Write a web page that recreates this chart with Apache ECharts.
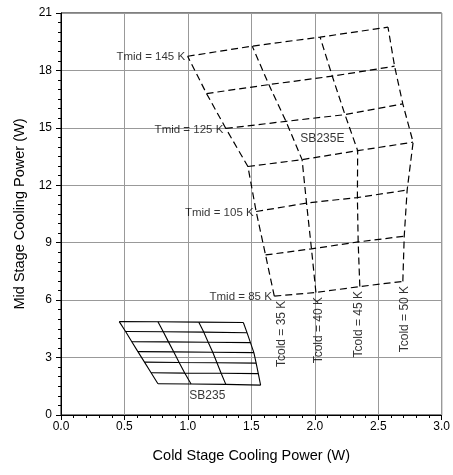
<!DOCTYPE html>
<html><head><meta charset="utf-8">
<script src="https://cdn.jsdelivr.net/npm/echarts@6/dist/echarts.min.js"></script>
<style>html,body{margin:0;padding:0;background:#fff}#c{width:453px;height:475px}</style>
</head><body><div id="c"></div>
<script>
// ---- data ----
const xTickLabels = ['0.0','0.5','1.0','1.5','2.0','2.5','3.0'];
const yTickLabels = ['0','3','6','9','12','15','18','21'];
const xTitle = 'Cold Stage Cooling Power (W)';
const yTitle = 'Mid Stage Cooling Power (W)';

// SB235E: rows = Tmid (K), columns = Tcold (K)
const sb235eTmid = [85, 95, 105, 115, 125, 135, 145];
const sb235eTcold = [35, 40, 45, 50];
const sb235eX = [
  [1.681, 2.009, 2.355, 2.694],
  [1.612, 1.974, 2.342, 2.705],
  [1.538, 1.935, 2.336, 2.728],
  [1.473, 1.900, 2.338, 2.775],
  [1.299, 1.773, 2.238, 2.694],
  [1.147, 1.638, 2.138, 2.629],
  [0.998, 1.507, 2.042, 2.577]
];
const sb235eY = [
  [6.21, 6.40, 6.71, 6.98],
  [8.36, 8.68, 9.04, 9.34],
  [10.63, 11.07, 11.36, 11.75],
  [12.98, 13.34, 13.81, 14.25],
  [14.97, 15.34, 15.69, 16.25],
  [16.79, 17.26, 17.70, 18.22],
  [18.74, 19.27, 19.74, 20.26]
];
const sb235eLabeledTmid = [85, 105, 125, 145];
const sb235eName = 'SB235E';
const sb235eNameAt = [2.06, 14.42];

// SB235: 7 x 4 solid grid
const sb235X = [
  [0.459, 0.764, 1.086, 1.437],
  [0.509, 0.806, 1.125, 1.466],
  [0.558, 0.847, 1.160, 1.493],
  [0.606, 0.888, 1.196, 1.520],
  [0.658, 0.931, 1.229, 1.538],
  [0.710, 0.975, 1.262, 1.555],
  [0.764, 1.025, 1.299, 1.573]
];
const sb235Y = [
  [4.88, 4.87, 4.85, 4.83],
  [4.36, 4.35, 4.33, 4.30],
  [3.83, 3.82, 3.80, 3.78],
  [3.31, 3.30, 3.28, 3.26],
  [2.76, 2.74, 2.73, 2.71],
  [2.21, 2.19, 2.18, 2.16],
  [1.63, 1.62, 1.60, 1.56]
];
const sb235Name = 'SB235';
const sb235NameAt = [1.153, 1.02];

// ---- styles ----
const FONT = 'Liberation Sans, Arial, sans-serif';
const tcoldLabelDx = [7.5, 3, -1, 2];

function gridSeries(X, Y, lineStyle) {
  const out = [];
  for (let r = 0; r < X.length; r++) {
    out.push({type:'line', symbol:'none', silent:true, lineStyle,
      data: X[r].map((x, c) => [x, Y[r][c]])});
  }
  for (let c = 0; c < X[0].length; c++) {
    out.push({type:'line', symbol:'none', silent:true, lineStyle,
      data: X.map((row, r) => [row[c], Y[r][c]])});
  }
  return out;
}

const dashed = {color:'#000', width:1.2, type:[7,4]};
const solid = {color:'#000', width:1.1, type:'solid'};

const series = [
  ...gridSeries(sb235eX, sb235eY, dashed),
  ...gridSeries(sb235X, sb235Y, solid),
  {
    type:'scatter', symbolSize:1, itemStyle:{color:'rgba(0,0,0,0)'}, silent:true,
    data: sb235eLabeledTmid.map(t => {
      const r = sb235eTmid.indexOf(t);
      return {value:[sb235eX[r][0], sb235eY[r][0]], name:'Tmid = ' + t + ' K'};
    }),
    label:{show:true, position:'left', distance:2, offset:[0,1], formatter:p => p.name,
      fontFamily:FONT, fontSize:11.5, color:'#000'}
  },
  {
    type:'scatter', symbolSize:1, itemStyle:{color:'rgba(0,0,0,0)'}, silent:true,
    data: sb235eTcold.map((t, c) => ({
      value:[sb235eX[0][c], sb235eY[0][c]], name:'Tcold = ' + t + ' K',
      label:{offset:[0, tcoldLabelDx[c]]}
    })),
    label:{show:true, position:'bottom', distance:4, rotate:90, align:'right', verticalAlign:'middle',
      formatter:p => p.name, fontFamily:FONT, fontSize:12, color:'#000'}
  },
  {
    type:'scatter', symbolSize:1, itemStyle:{color:'rgba(0,0,0,0)'}, silent:true,
    data:[{value:sb235eNameAt, name:sb235eName},{value:sb235NameAt, name:sb235Name}],
    label:{show:true, position:'inside', formatter:p => p.name, fontFamily:FONT, fontSize:12, color:'#000'}
  }
];

const chart = echarts.init(document.getElementById('c'), null, {renderer:'canvas'});
chart.setOption({
  animation:false,
  backgroundColor:'#fff',
  grid:{left:61, right:9, top:13, bottom:60, show:true, borderColor:'#000', borderWidth:1, backgroundColor:'transparent'},
  xAxis:{
    type:'value', min:0, max:3, interval:0.5,
    name:xTitle, nameLocation:'middle', nameGap:33,
    nameTextStyle:{fontFamily:FONT, fontSize:14.5, color:'#000'},
    axisLine:{show:true, onZero:false, lineStyle:{color:'#000', width:1}},
    axisTick:{show:true, inside:false, length:5, lineStyle:{color:'#000'}},
    minorTick:{show:true, splitNumber:5, length:3, lineStyle:{color:'#000'}},
    axisLabel:{fontFamily:FONT, fontSize:12, color:'#000', margin:6,
      formatter:(v) => xTickLabels[Math.round(v / 0.5)]},
    splitLine:{show:true, lineStyle:{color:'#999', width:1}}
  },
  yAxis:{
    type:'value', min:0, max:21, interval:3,
    name:yTitle, nameLocation:'middle', nameGap:34,
    nameTextStyle:{fontFamily:FONT, fontSize:14.5, color:'#000'},
    axisLine:{show:true, onZero:false, lineStyle:{color:'#000', width:1}},
    axisTick:{show:true, inside:false, length:5, lineStyle:{color:'#000'}},
    minorTick:{show:true, splitNumber:6, length:3, lineStyle:{color:'#000'}},
    axisLabel:{fontFamily:FONT, fontSize:12, color:'#000', margin:9,
      formatter:(v) => yTickLabels[Math.round(v / 3)]},
    splitLine:{show:true, lineStyle:{color:'#999', width:1}}
  },
  series
});
</script>
</body></html>
